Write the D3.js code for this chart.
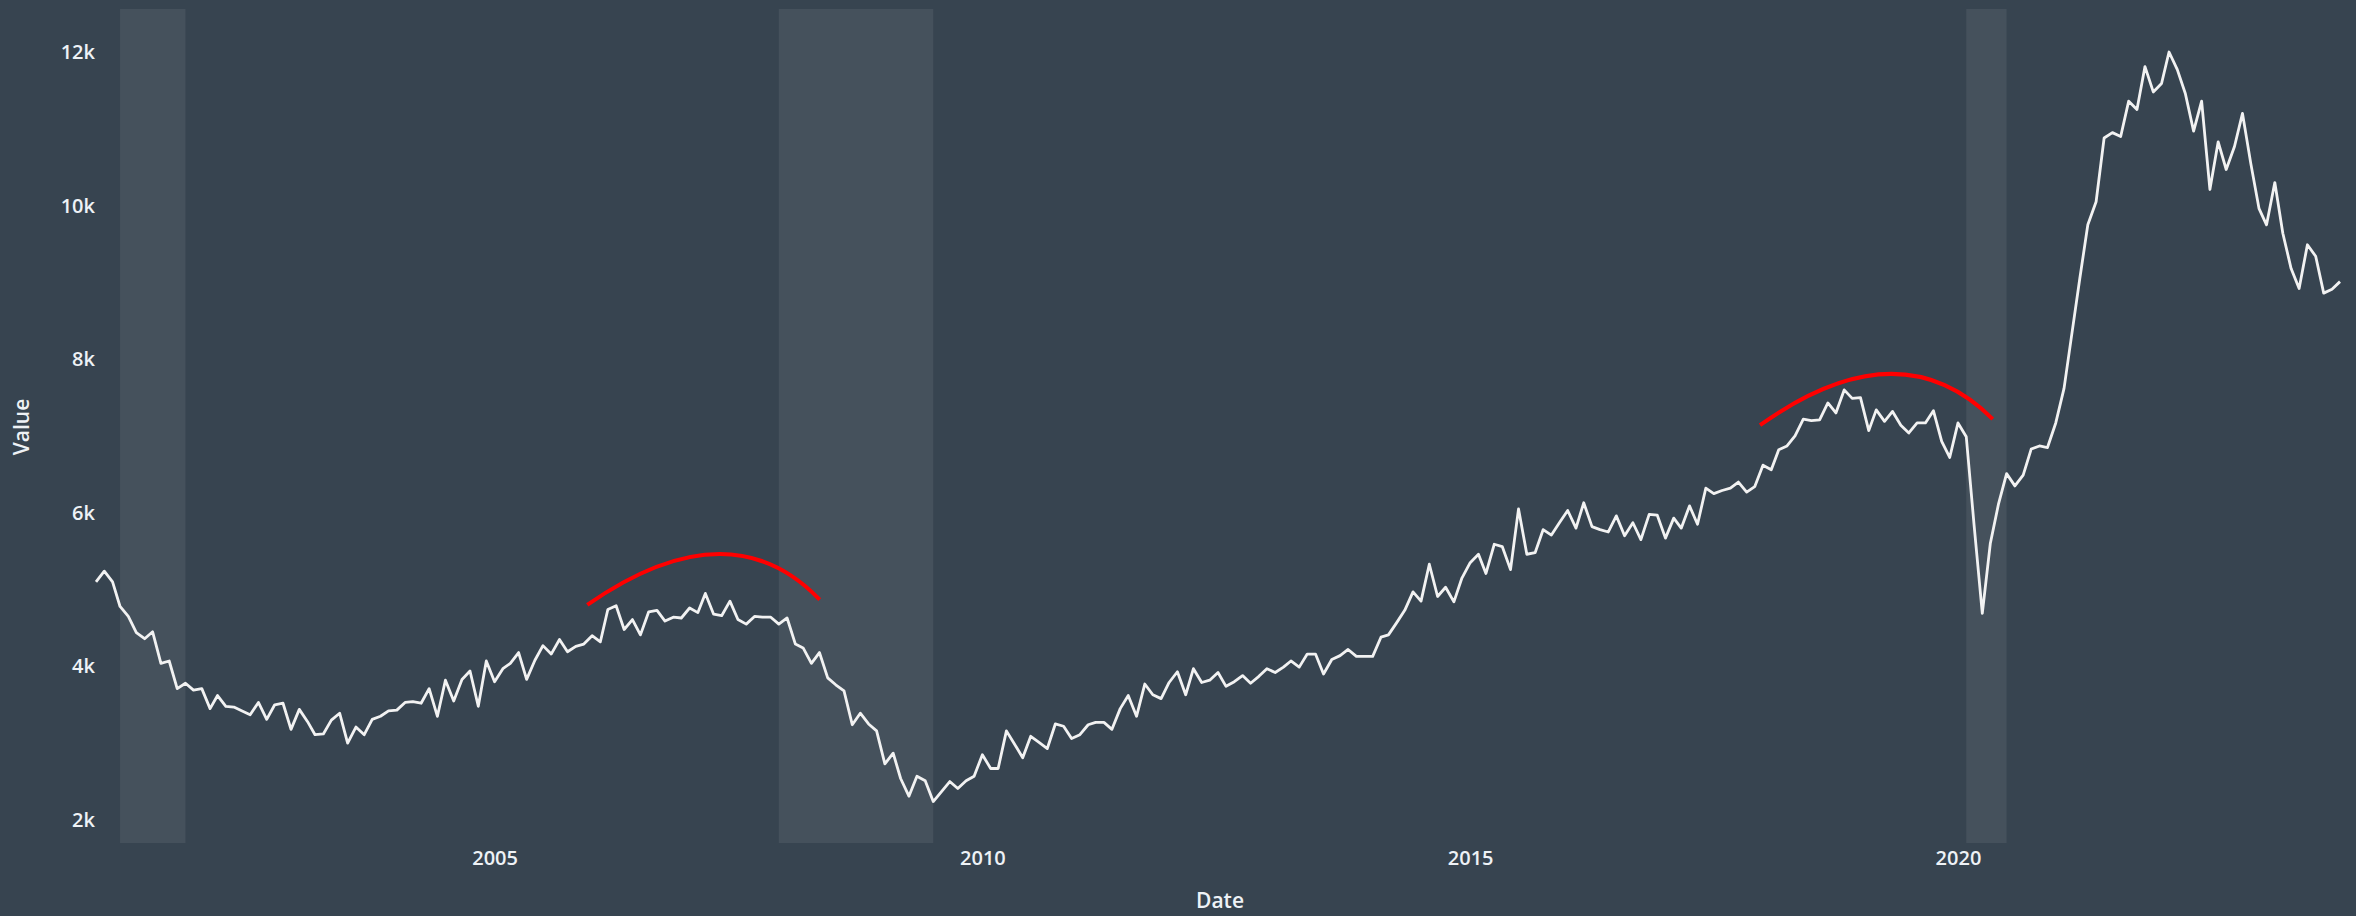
<!DOCTYPE html>
<html>
<head>
<meta charset="utf-8">
<script src="https://cdn.jsdelivr.net/npm/d3@7"></script>
<style>
    body { margin: 0; background: #374450; }
    svg text { font-family: 'Open Sans', sans-serif; font-weight: 600; }
</style>
</head>
<body>
<div id="chart"></div>
<script>
//data to display (monthly, first point = firstMonth)
const firstMonth = '2000-12-01';
const values = [
    5100, 5240, 5100, 4780, 4650, 4440, 4360, 4450, 4040, 4070,
    3710, 3780, 3690, 3710, 3450, 3620, 3480, 3470, 3420, 3370,
    3530, 3310, 3500, 3520, 3180, 3440, 3280, 3110, 3120, 3300,
    3390, 3000, 3210, 3110, 3310, 3350, 3420, 3430, 3530, 3540,
    3520, 3710, 3350, 3820, 3550, 3830, 3940, 3480, 4070, 3800,
    3970, 4040, 4180, 3830, 4080, 4270, 4160, 4350, 4190, 4260,
    4290, 4400, 4320, 4740, 4790, 4480, 4610, 4410, 4710, 4730,
    4590, 4640, 4630, 4760, 4700, 4950, 4680, 4660, 4850, 4610,
    4550, 4650, 4640, 4640, 4550, 4630, 4290, 4240, 4040, 4180,
    3850, 3760, 3680, 3240, 3390, 3250, 3160, 2730, 2870, 2540,
    2310, 2570, 2510, 2240, 2370, 2500, 2410, 2510, 2570, 2850,
    2670, 2670, 3160, 2990, 2810, 3090, 3010, 2930, 3250, 3220,
    3060, 3110, 3240, 3270, 3270, 3180, 3450, 3620, 3350, 3770,
    3630, 3580, 3790, 3930, 3630, 3970, 3790, 3820, 3920, 3740,
    3800, 3880, 3780, 3870, 3970, 3920, 3990, 4070, 3990, 4160,
    4160, 3900, 4090, 4140, 4220, 4130, 4130, 4130, 4380, 4410,
    4570, 4730, 4970, 4850, 5330, 4910, 5030, 4840, 5150, 5350,
    5460, 5210, 5590, 5560, 5260, 6050, 5460, 5480, 5780, 5710,
    5870, 6030, 5800, 6130, 5820, 5780, 5750, 5960, 5700, 5870,
    5650, 5980, 5970, 5670, 5930, 5800, 6090, 5850, 6320, 6250,
    6290, 6320, 6400, 6270, 6340, 6620, 6560, 6820, 6870, 7000,
    7220, 7200, 7210, 7430, 7300, 7600, 7490, 7500, 7070, 7340,
    7190, 7320, 7140, 7040, 7170, 7170, 7330, 6930, 6720, 7170,
    6990, 5850, 4690, 5600, 6120, 6510, 6350, 6490, 6830, 6870,
    6850, 7170, 7620, 8300, 9050, 9750, 10050, 10880, 10950, 10900,
    11360, 11250, 11810, 11480, 11590, 12000, 11770, 11460, 10970, 11360,
    10210, 10830, 10470, 10770, 11200, 10550, 9960, 9750, 10300, 9640,
    9180, 8920, 9490, 9340, 8860, 8910, 9010
];

//axis ticks
const yTicks = [2000, 4000, 6000, 8000, 10000, 12000];
const xTicks = ['2005-01-01', '2010-01-01', '2015-01-01', '2020-01-01'];

//shaded periods
const shadeStarts = ['2001-03-01', '2007-12-01', '2020-02-01'];
const shadeEnds = ['2001-11-01', '2009-07-01', '2020-07-01'];

//red arcs: start, control, end as [date, value]
const arcStarts = [['2005-12-14', 4800], ['2017-12-21', 7140]];
const arcControls = [['2007-05-30', 6090], ['2019-05-26', 8435]];
const arcEnds = [['2008-05-02', 4870], ['2020-05-10', 7220]];

//Measures
const width = 2356;
const height = 916;
const plotLeft = 96;
const plotRight = 2340;
const plotTop = 9;
const plotBottom = 843;
const tickFontSize = 20;
const titleFontSize = 21;

//Colors
const bgColor = '#374450';
const shadeColor = '#ffffff';
const lineColor = '#f2f2f2';
const arcColor = '#ff0000';
const textColor = '#eef2f6';

const parseDate = d3.timeParse('%Y-%m-%d');
const dates = values.map((v, i) => d3.timeMonth.offset(parseDate(firstMonth), i));

const x = d3.scaleTime()
    .domain([dates[0], dates[dates.length - 1]])
    .range([plotLeft, plotRight]);
const y = d3.scaleLinear()
    .domain([1700, 12560])
    .range([plotBottom, plotTop]);

const svg = d3.select('#chart').append('svg')
    .attr('width', width)
    .attr('height', height)
    .style('background', bgColor);

drawChart(svg);

function drawChart(svg) {
    drawShades(svg);
    drawLine(svg);
    drawArcs(svg);
    drawAxes(svg);
    drawTitles(svg);
}

//shaded bands over full plot height
function drawShades(svg) {
    svg.append('g').selectAll('rect')
        .data(shadeStarts.map((s, i) => [parseDate(s), parseDate(shadeEnds[i])]))
        .join('rect')
        .attr('x', d => x(d[0]))
        .attr('y', plotTop)
        .attr('width', d => x(d[1]) - x(d[0]))
        .attr('height', plotBottom - plotTop)
        .attr('fill', shadeColor)
        .attr('fill-opacity', 0.07);
}

function drawLine(svg) {
    const line = d3.line()
        .x((d, i) => x(dates[i]))
        .y(d => y(d));
    svg.append('path')
        .datum(values)
        .attr('d', line)
        .attr('fill', 'none')
        .attr('stroke', lineColor)
        .attr('stroke-width', 2.8)
        .attr('stroke-linejoin', 'round');
}

function drawArcs(svg) {
    arcStarts.forEach((s, i) => {
        const c = arcControls[i];
        const e = arcEnds[i];
        const p = d3.path();
        p.moveTo(x(parseDate(s[0])), y(s[1]));
        p.quadraticCurveTo(x(parseDate(c[0])), y(c[1]), x(parseDate(e[0])), y(e[1]));
        svg.append('path')
            .attr('d', p.toString())
            .attr('fill', 'none')
            .attr('stroke', arcColor)
            .attr('stroke-width', 4);
    });
}

function drawAxes(svg) {
    const yAxis = svg.append('g')
        .attr('transform', `translate(${plotLeft},0)`)
        .call(d3.axisLeft(y)
            .tickValues(yTicks)
            .tickSize(0)
            .tickPadding(1)
            .tickFormat(d => d / 1000 + 'k'));
    const xAxis = svg.append('g')
        .attr('transform', `translate(0,${plotBottom})`)
        .call(d3.axisBottom(x)
            .tickValues(xTicks.map(parseDate))
            .tickSize(0)
            .tickPadding(8)
            .tickFormat(d3.timeFormat('%Y')));
    [xAxis, yAxis].forEach(a => {
        a.select('.domain').remove();
        a.selectAll('text')
            .attr('fill', textColor)
            .style('font-size', tickFontSize + 'px');
    });
}

function drawTitles(svg) {
    svg.append('text')
        .text('Date')
        .attr('x', 1220)
        .attr('y', 901)
        .attr('dy', '0.35em')
        .attr('text-anchor', 'middle')
        .attr('fill', textColor)
        .style('font-size', titleFontSize + 'px');
    svg.append('text')
        .text('Value')
        .attr('transform', 'translate(22,427) rotate(-90)')
        .attr('dy', '0.35em')
        .attr('text-anchor', 'middle')
        .attr('fill', textColor)
        .style('font-size', titleFontSize + 'px');
}
</script>
</body>
</html>
